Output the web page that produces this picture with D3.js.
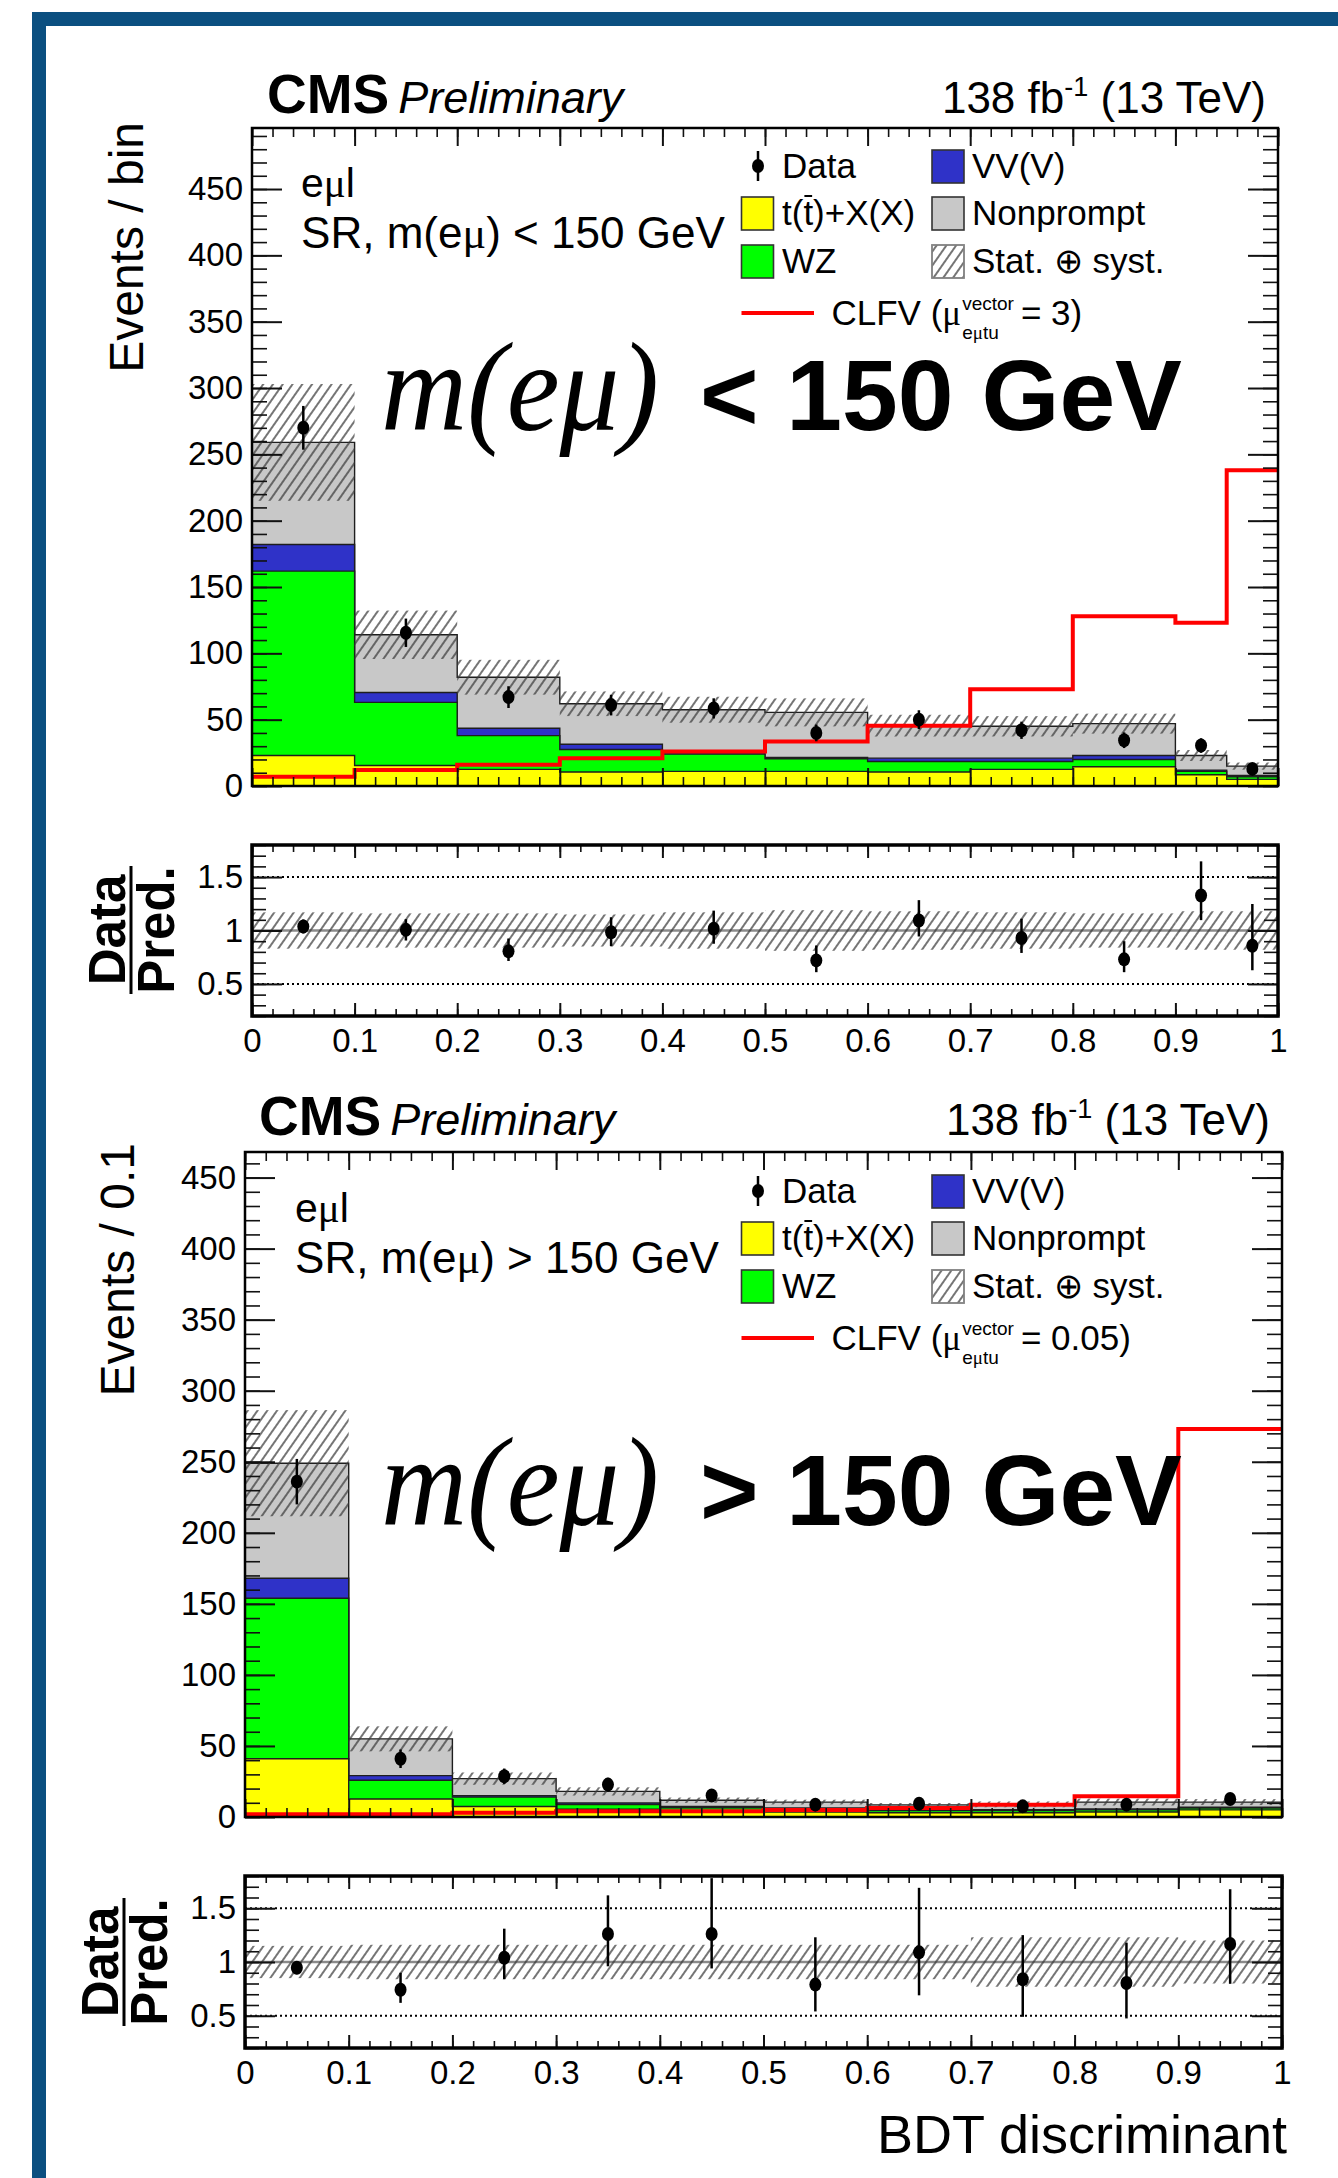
<!DOCTYPE html>
<html>
<head>
<meta charset="utf-8">
<script src="https://cdn.jsdelivr.net/npm/d3@7"></script>
<style>
  html, body { margin: 0; padding: 0; background: #fff; }
  svg { display: block; }
  text { font-family: "Liberation Sans", Arial, Helvetica, sans-serif; fill: #000; }
</style>
</head>
<body>
<svg id="fig" width="1338" height="2178"></svg>
<script>
// ---------------- data: m(e mu) < 150 GeV ----------------
const edgesLow = [0, 0.1, 0.2, 0.3, 0.4, 0.5, 0.6, 0.7, 0.8, 0.9, 0.95, 1.0];
const ttxLow = [23, 15.5, 12.5, 10.5, 11, 11, 10.5, 12.5, 14.5, 8.5, 5];
const wzLow = [139, 47.5, 25.5, 17, 13, 9.5, 8, 6, 5.5, 2.5, 2];
const vvLow = [20, 7.5, 5.5, 4, 1, 1, 2.5, 2.5, 3, 1, 1];
const nonpromptLow = [77, 43.5, 38.5, 30.5, 32.5, 34, 24.5, 24, 24, 11, 7];
const clfvLow = [7, 12, 16, 21, 26, 33.5, 45.5, 73, 128, 123, 238];
const dataLow = [270, 115.5, 67, 61, 58.5, 40, 50, 42, 34.5, 30.5, 12.9];
const dataErrLow = [16.5, 10.7, 8.2, 7.8, 7.6, 6.3, 7.1, 6.5, 5.9, 5.5, 3.6];
const systLow = [0.17, 0.16, 0.16, 0.15, 0.17, 0.19, 0.18, 0.17, 0.16, 0.18, 0.18];
const ratioLow = [1.038, 1.006, 0.805, 0.984, 1.016, 0.72, 1.094, 0.93, 0.73, 1.327, 0.858];
const ratioUpLow = [0.065, 0.1, 0.12, 0.14, 0.17, 0.14, 0.19, 0.18, 0.17, 0.32, 0.39];
const ratioDownLow = [0.065, 0.1, 0.09, 0.13, 0.14, 0.11, 0.15, 0.14, 0.12, 0.23, 0.23];

// ---------------- data: m(e mu) > 150 GeV ----------------
const edgesHigh = [0, 0.1, 0.2, 0.3, 0.4, 0.5, 0.6, 0.7, 0.8, 0.9, 1.0];
const ttxHigh = [41, 12.7, 7.4, 5.5, 4, 3.5, 3, 3, 3.5, 5];
const wzHigh = [113, 13.2, 6.6, 3.2, 2.5, 2, 1.5, 1.5, 1.5, 1.3];
const vvHigh = [14, 3.2, 1, 1.2, 1, 0.8, 0.6, 0.6, 0.6, 0.6];
const nonpromptHigh = [81, 25.9, 12, 8.1, 4.3, 4.2, 3.4, 3.8, 4.9, 3.6];
const clfvHigh = [2, 2, 3, 4, 4, 5, 6.3, 8.7, 14.6, 273];
const dataHigh = [236, 41, 28.7, 22.8, 15.1, 8.7, 9.4, 7.5, 8.7, 12.7];
const dataErrHigh = [16, 6.5, 5.4, 4.8, 3.9, 3, 3.1, 2.8, 3, 3.6];
const systHigh = [0.15, 0.16, 0.16, 0.16, 0.16, 0.16, 0.16, 0.23, 0.23, 0.2];
const ratioHigh = [0.947, 0.742, 1.04, 1.26, 1.26, 0.79, 1.09, 0.84, 0.805, 1.167];
const ratioUpHigh = [0.06, 0.158, 0.27, 0.36, 0.52, 0.44, 0.6, 0.41, 0.375, 0.51];
const ratioDownHigh = [0.06, 0.122, 0.2, 0.3, 0.32, 0.25, 0.4, 0.35, 0.33, 0.37];

// ---------------- tick labels ----------------
const yTicksMain = [0, 50, 100, 150, 200, 250, 300, 350, 400, 450];
const yTicksRatio = [0.5, 1, 1.5];
const xTicks = [0, 0.1, 0.2, 0.3, 0.4, 0.5, 0.6, 0.7, 0.8, 0.9, 1];

// ---------------- drawing ----------------
const W = 1338, H = 2178;
const svg = d3.select('#fig');
const defs = svg.append('defs');

const hatch = defs.append('pattern').attr('id', 'hatch')
  .attr('patternUnits', 'userSpaceOnUse').attr('width', 8).attr('height', 8)
  .attr('patternTransform', 'rotate(35)');
hatch.append('line').attr('x1', 4).attr('y1', -1).attr('x2', 4).attr('y2', 9)
  .attr('stroke', '#3a3a3a').attr('stroke-width', 1.4);

const fillColors = { ttx: '#ffff00', wz: '#00ff00', vv: '#2f32c8', np: '#c8c8c8' };

// page border
svg.append('rect').attr('x', 32).attr('y', 12).attr('width', W - 32).attr('height', 14).attr('fill', '#0b4f80');
svg.append('rect').attr('x', 32).attr('y', 12).attr('width', 14).attr('height', H - 12).attr('fill', '#0b4f80');

function stepPoints(edges, vals) {
  const pts = vals.map((v, i) => [edges[i], v]);
  pts.push([edges[edges.length - 1], vals[vals.length - 1]]);
  return pts;
}

function styleAxis(g, size) {
  g.select('.domain').remove();
  g.attr('font-family', '"Liberation Sans", Arial, sans-serif').attr('font-size', size);
  g.selectAll('line').attr('stroke', '#111');
  g.selectAll('text').attr('fill', '#000');
  // tick marks without labels keep no empty text nodes
  g.selectAll('text').filter(function () { return !this.textContent; }).remove();
}

function frameAxes(x, y, c, o) {
  const gl = svg.append('g').attr('transform', `translate(${c.L},0)`);
  gl.call(d3.axisLeft(y).tickValues(o.yMinor).tickSize(-o.yMinLen).tickFormat(''));
  styleAxis(gl, 33); gl.selectAll('line').attr('stroke-width', 1.6);
  const glM = svg.append('g').attr('transform', `translate(${c.L},0)`);
  glM.call(d3.axisLeft(y).tickValues(o.yMajor).tickSize(-o.yMajLen).tickPadding(9).tickFormat(o.yFormat));
  styleAxis(glM, 33); glM.selectAll('line').attr('stroke-width', 2);

  const gr = svg.append('g').attr('transform', `translate(${c.R},0)`);
  gr.call(d3.axisRight(y).tickValues(o.yMinor).tickSize(-o.yMinLen).tickFormat(''));
  styleAxis(gr, 33); gr.selectAll('line').attr('stroke-width', 1.6);
  const grM = svg.append('g').attr('transform', `translate(${c.R},0)`);
  grM.call(d3.axisRight(y).tickValues(o.yMajor).tickSize(-o.yMajLen).tickFormat(''));
  styleAxis(grM, 33); grM.selectAll('line').attr('stroke-width', 2);

  const xMinor = d3.range(0, 50.5, 1).map(d => d / 50);
  const gt = svg.append('g').attr('transform', `translate(0,${c.top})`);
  gt.call(d3.axisTop(x).tickValues(xMinor).tickSize(-o.xMinLen).tickFormat(''));
  styleAxis(gt, 33); gt.selectAll('line').attr('stroke-width', 1.6);
  const gtM = svg.append('g').attr('transform', `translate(0,${c.top})`);
  gtM.call(d3.axisTop(x).tickValues(xTicks).tickSize(-o.xMajLen).tickFormat(''));
  styleAxis(gtM, 33); gtM.selectAll('line').attr('stroke-width', 2);

  const gb = svg.append('g').attr('transform', `translate(0,${c.bottom})`);
  gb.call(d3.axisBottom(x).tickValues(xMinor).tickSize(-o.xMinLen).tickFormat(''));
  styleAxis(gb, 33); gb.selectAll('line').attr('stroke-width', 1.6);
  const gbM = svg.append('g').attr('transform', `translate(0,${c.bottom})`);
  gbM.call(d3.axisBottom(x).tickValues(xTicks).tickSize(-o.xMajLen).tickPadding(o.labelPad || 0)
    .tickFormat(o.xLabels ? d3.format('~g') : ''));
  styleAxis(gbM, 33); gbM.selectAll('line').attr('stroke-width', 2);

  svg.append('rect').attr('x', c.L).attr('y', c.top).attr('width', c.R - c.L).attr('height', c.bottom - c.top)
    .attr('fill', 'none').attr('stroke', '#000').attr('stroke-width', o.frameW);
}

function drawMain(c) {
  const x = d3.scaleLinear().domain([0, 1]).range([c.L, c.R]);
  const y = d3.scaleLinear().domain([0, c.yMax]).range([c.bottom, c.top]);
  defs.append('clipPath').attr('id', 'clip-' + c.id).append('rect')
    .attr('x', c.L).attr('y', c.top).attr('width', c.R - c.L).attr('height', c.bottom - c.top);
  const plot = svg.append('g').attr('clip-path', `url(#clip-${c.id})`);

  const keys = ['ttx', 'wz', 'vv', 'np'];
  const rows = c.ttx.map((_, i) => ({ ttx: c.ttx[i], wz: c.wz[i], vv: c.vv[i], np: c.np[i] }));
  const series = d3.stack().keys(keys)(rows);
  const area = d3.area().curve(d3.curveStepAfter).x(d => x(d[0])).y0(y(0)).y1(d => y(d[1]));
  for (let k = series.length - 1; k >= 0; k--) {
    const tops = series[k].map(d => d[1]);
    plot.append('path').attr('d', area(stepPoints(c.edges, tops)))
      .attr('fill', fillColors[keys[k]]).attr('stroke', '#1e1e1e').attr('stroke-width', 1.4);
  }
  const totals = series[series.length - 1].map(d => d[1]);

  // total uncertainty band
  plot.selectAll(null).data(totals).join('rect')
    .attr('x', (d, i) => x(c.edges[i]))
    .attr('width', (d, i) => x(c.edges[i + 1]) - x(c.edges[i]))
    .attr('y', (d, i) => y(d * (1 + c.syst[i])))
    .attr('height', (d, i) => y(d * (1 - c.syst[i])) - y(d * (1 + c.syst[i])))
    .attr('fill', 'url(#hatch)');

  // signal
  const line = d3.line().curve(d3.curveStepAfter).x(d => x(d[0])).y(d => y(d[1]));
  plot.append('path').attr('d', line(stepPoints(c.edges, c.clfv)))
    .attr('fill', 'none').attr('stroke', '#ff0000').attr('stroke-width', 4);

  // observed data
  const centers = c.data.map((_, i) => (c.edges[i] + c.edges[i + 1]) / 2);
  plot.selectAll(null).data(c.data).join('line')
    .attr('x1', (d, i) => x(centers[i])).attr('x2', (d, i) => x(centers[i]))
    .attr('y1', (d, i) => y(d + c.dataErr[i])).attr('y2', (d, i) => y(d - c.dataErr[i]))
    .attr('stroke', '#000').attr('stroke-width', 2.5);
  plot.selectAll(null).data(c.data).join('ellipse')
    .attr('cx', (d, i) => x(centers[i])).attr('cy', d => y(d)).attr('rx', 6).attr('ry', 7)
    .attr('fill', '#000');

  frameAxes(x, y, c, {
    yMajor: yTicksMain, yMinor: d3.range(0, c.yMax, 10), yMajLen: 30, yMinLen: 15,
    xMajLen: 18, xMinLen: 9, yFormat: d3.format('d'), xLabels: false, frameW: 2.5
  });
}

function drawRatio(c) {
  const x = d3.scaleLinear().domain([0, 1]).range([c.L, c.R]);
  const y = d3.scaleLinear().domain([0.2, 1.8]).range([c.bottom, c.top]);
  defs.append('clipPath').attr('id', 'clip-' + c.id).append('rect')
    .attr('x', c.L).attr('y', c.top).attr('width', c.R - c.L).attr('height', c.bottom - c.top);
  const plot = svg.append('g').attr('clip-path', `url(#clip-${c.id})`);

  plot.append('line').attr('x1', c.L).attr('x2', c.R).attr('y1', y(1)).attr('y2', y(1))
    .attr('stroke', '#8a8a8a').attr('stroke-width', 2.5);
  plot.selectAll(null).data(c.syst).join('rect')
    .attr('x', (d, i) => x(c.edges[i]))
    .attr('width', (d, i) => x(c.edges[i + 1]) - x(c.edges[i]))
    .attr('y', d => y(1 + d)).attr('height', d => y(1 - d) - y(1 + d))
    .attr('fill', 'url(#hatch)');
  [0.5, 1.5].forEach(v => {
    plot.append('line').attr('x1', c.L).attr('x2', c.R).attr('y1', y(v)).attr('y2', y(v))
      .attr('stroke', '#000').attr('stroke-width', 2).attr('stroke-dasharray', '2,3');
  });

  const centers = c.ratio.map((_, i) => (c.edges[i] + c.edges[i + 1]) / 2);
  plot.selectAll(null).data(c.ratio).join('line')
    .attr('x1', (d, i) => x(centers[i])).attr('x2', (d, i) => x(centers[i]))
    .attr('y1', (d, i) => y(d + c.up[i])).attr('y2', (d, i) => y(d - c.down[i]))
    .attr('stroke', '#000').attr('stroke-width', 2.5);
  plot.selectAll(null).data(c.ratio).join('ellipse')
    .attr('cx', (d, i) => x(centers[i])).attr('cy', d => y(d)).attr('rx', 6).attr('ry', 7)
    .attr('fill', '#000');

  frameAxes(x, y, c, {
    yMajor: yTicksRatio, yMinor: d3.range(2, 18.5, 1).map(d => d / 10), yMajLen: 30, yMinLen: 14,
    xMajLen: 13, xMinLen: 7, yFormat: d3.format('~g'), xLabels: true, labelPad: 13, frameW: 3.5
  });

  // Data / Pred. fraction
  const fs = 51;
  svg.append('text').attr('transform', `translate(${c.fracX},${c.fracY}) rotate(-90)`)
    .attr('text-anchor', 'middle').attr('font-size', fs).attr('font-weight', 'bold').text('Data');
  svg.append('line').attr('x1', c.fracX + 6).attr('x2', c.fracX + 6)
    .attr('y1', c.fracY - 64).attr('y2', c.fracY + 64).attr('stroke', '#000').attr('stroke-width', 3);
  svg.append('text').attr('transform', `translate(${c.fracX + 49},${c.fracY}) rotate(-90)`)
    .attr('text-anchor', 'middle').attr('font-size', fs).attr('font-weight', 'bold').text('Pred.');
}

function drawHeader(c) {
  const cms = svg.append('text').attr('x', c.cmsX).attr('y', c.base)
    .attr('font-size', 55).attr('font-weight', 'bold').text('CMS');
  const w = cms.node().getComputedTextLength();
  svg.append('text').attr('x', c.cmsX + w + 9).attr('y', c.base)
    .attr('font-size', 45).attr('font-style', 'italic').text('Preliminary');
  const lumi = svg.append('text').attr('x', c.lumiR).attr('y', c.base)
    .attr('font-size', 44).attr('text-anchor', 'end');
  lumi.append('tspan').text('138 fb');
  lumi.append('tspan').attr('dy', -17).attr('font-size', 27).text('-1');
  lumi.append('tspan').attr('dy', 17).attr('font-size', 44).text(' (13 TeV)');

  svg.append('text').attr('transform', `translate(${c.yTitleX},${c.yTitleTop}) rotate(-90)`)
    .attr('text-anchor', 'end').attr('font-size', 48).text(c.yTitle);
}

function muText(sel, parts) {
  parts.forEach(p => {
    const t = sel.append('tspan').text(p);
    if (p === 'μ') t.attr('font-family', '"Liberation Serif", "Times New Roman", serif');
  });
}

function fitWidth(sel, target) {
  const w = sel.node().getComputedTextLength();
  const fs = parseFloat(sel.attr('font-size'));
  sel.attr('font-size', fs * target / w);
}

// squeeze a text horizontally about its start so it spans the given width
function fitScaleX(sel, x0, target) {
  const w = sel.node().getComputedTextLength();
  const sx = target / w;
  sel.attr('transform', `translate(${x0},0) scale(${sx},1) translate(${-x0},0)`);
}

function drawLabels(c) {
  const dy = c.dy;
  // region text
  const r1 = svg.append('text').attr('x', c.regionX).attr('y', 197 + dy).attr('font-size', 41);
  muText(r1, ['e', 'μ', 'l']);
  const r2 = svg.append('text').attr('x', c.regionX).attr('y', 248 + dy).attr('font-size', 42);
  muText(r2, ['SR, m(e', 'μ', `) ${c.sym} 150 GeV`]);
  fitWidth(r2, 424);

  // legend
  const lx1 = 741.5, lx2 = 932, bw = 32, bh = 33;
  svg.append('line').attr('x1', 758).attr('x2', 758).attr('y1', 151 + dy).attr('y2', 181 + dy)
    .attr('stroke', '#000').attr('stroke-width', 2.5);
  svg.append('ellipse').attr('cx', 758).attr('cy', 166 + dy).attr('rx', 6).attr('ry', 7).attr('fill', '#000');
  svg.append('text').attr('x', 782).attr('y', 178 + dy).attr('font-size', 35).text('Data');

  const boxes = [
    { x: lx1, y: 197, fill: fillColors.ttx },
    { x: lx1, y: 245, fill: fillColors.wz },
    { x: lx2, y: 150, fill: fillColors.vv },
    { x: lx2, y: 197, fill: fillColors.np }
  ];
  boxes.forEach(b => {
    svg.append('rect').attr('x', b.x).attr('y', b.y + dy).attr('width', bw).attr('height', bh)
      .attr('fill', b.fill).attr('stroke', '#333').attr('stroke-width', 1.6);
  });
  svg.append('rect').attr('x', lx2).attr('y', 245 + dy).attr('width', bw).attr('height', bh)
    .attr('fill', '#fff').attr('stroke', '#888').attr('stroke-width', 1.6);
  svg.append('rect').attr('x', lx2).attr('y', 245 + dy).attr('width', bw).attr('height', bh)
    .attr('fill', 'url(#hatch)').attr('stroke', '#888').attr('stroke-width', 1.6);

  const tt = svg.append('text').attr('x', 782).attr('y', 225 + dy).attr('font-size', 35).text('t(t)+X(X)');
  const node = tt.node();
  const bx = 782 + node.getSubStringLength(0, 2);
  const bwid = node.getSubStringLength(2, 1);
  svg.append('line').attr('x1', bx + 1).attr('x2', bx + bwid - 1).attr('y1', 225 + dy - 29).attr('y2', 225 + dy - 29)
    .attr('stroke', '#000').attr('stroke-width', 2);
  svg.append('text').attr('x', 782).attr('y', 273 + dy).attr('font-size', 35).text('WZ');
  svg.append('text').attr('x', 972).attr('y', 178 + dy).attr('font-size', 35).text('VV(V)');
  svg.append('text').attr('x', 972).attr('y', 225 + dy).attr('font-size', 35).text('Nonprompt');
  svg.append('text').attr('x', 972).attr('y', 273 + dy).attr('font-size', 35).text('Stat. ⊕ syst.');

  svg.append('line').attr('x1', lx1).attr('x2', 814).attr('y1', 313 + dy).attr('y2', 313 + dy)
    .attr('stroke', '#ff0000').attr('stroke-width', 4);
  const cl = svg.append('text').attr('x', 831.5).attr('y', 325 + dy).attr('font-size', 35);
  muText(cl, ['CLFV (', 'μ']);
  const clEnd = 831.5 + cl.node().getComputedTextLength();
  const sup = svg.append('text').attr('x', clEnd + 1).attr('y', 310 + dy).attr('font-size', 19).text('vector');
  const sub = svg.append('text').attr('x', clEnd + 1).attr('y', 339 + dy).attr('font-size', 19);
  muText(sub, ['e', 'μ', 'tu']);
  const supEnd = clEnd + 1 + Math.max(sup.node().getComputedTextLength(), sub.node().getComputedTextLength());
  svg.append('text').attr('x', supEnd + 7).attr('y', 325 + dy).attr('font-size', 35).text(`= ${c.mu})`);

  // large annotation
  const it = svg.append('text').attr('x', 381).attr('y', c.bigBase).attr('font-size', 128)
    .attr('font-style', 'italic')
    .style('font-family', '"Liberation Serif", "Times New Roman", serif')
    .text('m(eμ)');
  fitScaleX(it, 381, 278);
  const bd = svg.append('text').attr('x', 700).attr('y', c.bigBase).attr('font-size', 100)
    .attr('font-weight', 'bold').text(`${c.sym} 150 GeV`);
  fitWidth(bd, 482);
}

// ---------------- m(e mu) < 150 GeV ----------------
drawMain({
  id: 'low', L: 252, R: 1278, top: 128, bottom: 786, yMax: 496, edges: edgesLow,
  ttx: ttxLow, wz: wzLow, vv: vvLow, np: nonpromptLow, clfv: clfvLow,
  data: dataLow, dataErr: dataErrLow, syst: systLow
});
drawRatio({
  id: 'lowR', L: 252, R: 1278, top: 845, bottom: 1016, edges: edgesLow,
  ratio: ratioLow, up: ratioUpLow, down: ratioDownLow, syst: systLow,
  fracX: 125, fracY: 930
});
drawHeader({ cmsX: 267, base: 113, lumiR: 1266, yTitle: 'Events / bin', yTitleX: 143, yTitleTop: 122 });
drawLabels({ dy: 0, regionX: 301, sym: '<', mu: '3', bigBase: 430 });

// ---------------- m(e mu) > 150 GeV ----------------
drawMain({
  id: 'high', L: 245, R: 1282, top: 1152, bottom: 1817, yMax: 468, edges: edgesHigh,
  ttx: ttxHigh, wz: wzHigh, vv: vvHigh, np: nonpromptHigh, clfv: clfvHigh,
  data: dataHigh, dataErr: dataErrHigh, syst: systHigh
});
drawRatio({
  id: 'highR', L: 245, R: 1282, top: 1876, bottom: 2048, edges: edgesHigh,
  ratio: ratioHigh, up: ratioUpHigh, down: ratioDownHigh, syst: systHigh,
  fracX: 118, fracY: 1962
});
drawHeader({ cmsX: 259, base: 1135, lumiR: 1270, yTitle: 'Events / 0.1', yTitleX: 134, yTitleTop: 1143 });
drawLabels({ dy: 1025, regionX: 295, sym: '>', mu: '0.05', bigBase: 1525 });

svg.append('text').attr('x', 1287).attr('y', 2153).attr('text-anchor', 'end')
  .attr('font-size', 54).text('BDT discriminant');
</script>
</body>
</html>
